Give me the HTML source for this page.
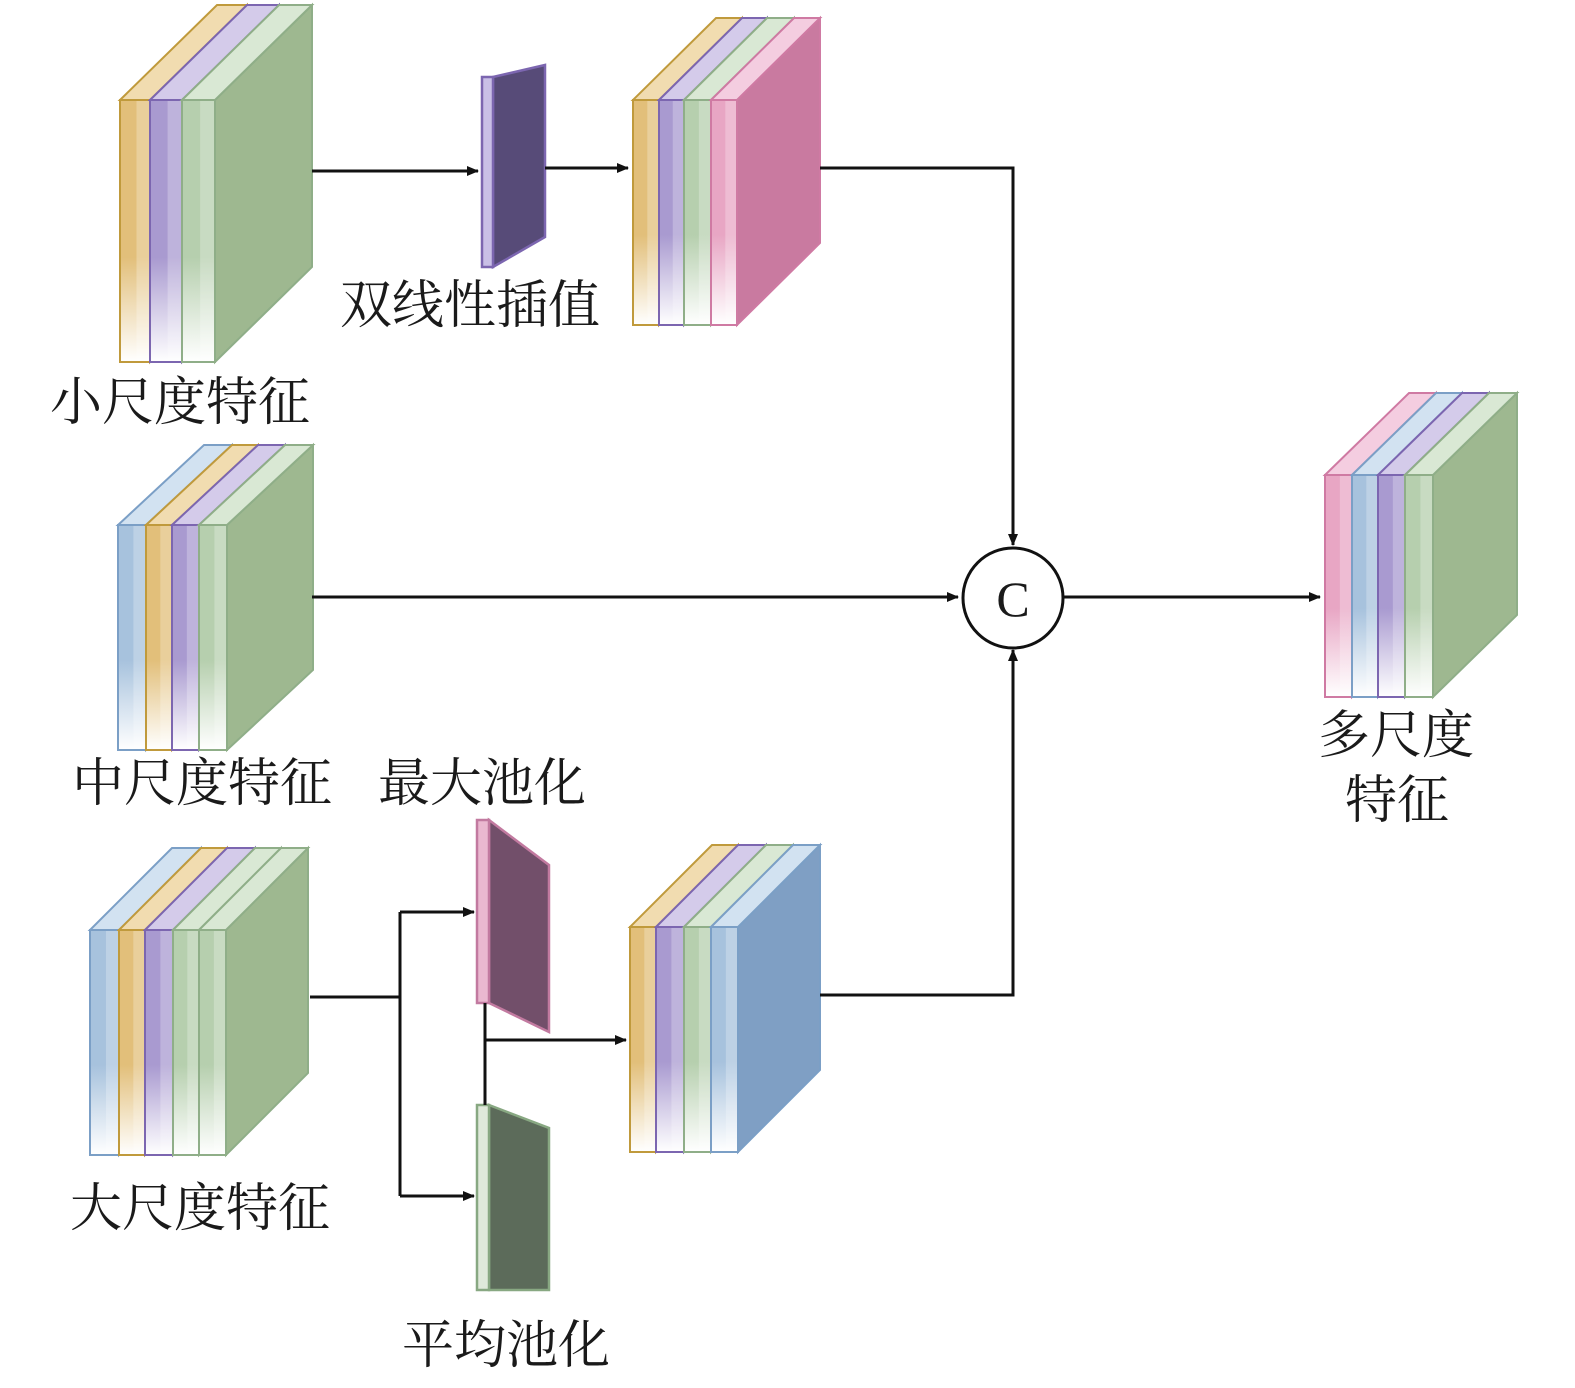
<!DOCTYPE html>
<html><head><meta charset="utf-8">
<style>
html,body{margin:0;padding:0;background:#fff;}
svg{display:block;}
text{font-family:"Liberation Serif","Noto Serif CJK SC",serif;font-size:52px;fill:#1a1a1a;}
</style></head>
<body>
<svg id="s" width="1575" height="1388" viewBox="0 0 1575 1388" xmlns="http://www.w3.org/2000/svg">
<defs>
<marker id="ah" markerWidth="12" markerHeight="10" refX="11" refY="5" orient="auto" markerUnits="userSpaceOnUse" viewBox="0 0 12 10">
<path d="M0,0 L12,5 L0,10 Z" fill="#111"/></marker>
</defs>
<g id="blocks"></g>
<g stroke="#111" stroke-width="3" fill="none">
<path d="M312,171 H478" marker-end="url(#ah)" transform="scale(1)"/>
<path d="M545,168 H628" marker-end="url(#ah)"/>
<path d="M820,168 H1013 V545" marker-end="url(#ah)"/>
<path d="M312,597 H958" marker-end="url(#ah)"/>
<path d="M1064,597 H1320" marker-end="url(#ah)"/>
<path d="M820,995 H1013 V650" marker-end="url(#ah)"/>
<path d="M310,997 H400"/>
<path d="M400,912 V1196"/>
<path d="M400,912 H474" marker-end="url(#ah)"/>
<path d="M400,1196 H474" marker-end="url(#ah)"/>
<path d="M485,1003 V1105"/>
<path d="M485,1040 H626" marker-end="url(#ah)"/>
<circle cx="1013" cy="598" r="50" stroke-width="3"/>
</g>
<text x="1013" y="616" text-anchor="middle" style="font-size:50px">C</text>
<text x="50" y="420">小尺度特征</text>
<text x="340" y="323">双线性插值</text>
<text x="72" y="801">中尺度特征</text>
<text x="378" y="801">最大池化</text>
<text x="70" y="1226">大尺度特征</text>
<text x="402" y="1363">平均池化</text>
<text x="1318" y="753">多尺度</text>
<text x="1345" y="818">特征</text>
</svg>
<script>
var C={
 y:{f:"#e2bf7a",t:"#f1dcb0",s:"#c09a3c"},
 p:{f:"#a99ad0",t:"#d4cbea",s:"#7c66b0"},
 g:{f:"#b6cfae",t:"#d9e8d4",s:"#8fae88",side:"#9eb890"},
 k:{f:"#e8a6c4",t:"#f4cde0",s:"#cf7aa3",side:"#c97aa0"},
 b:{f:"#a7c2dd",t:"#d2e2f1",s:"#7b9fc6",side:"#7f9fc4"}
};
var NS="http://www.w3.org/2000/svg",G=document.getElementById("blocks"),defs=document.querySelector("defs"),gid=0;
function el(n,a){var e=document.createElementNS(NS,n);for(var k in a)e.setAttribute(k,a[k]);return e;}
function grad(c){var id="g"+(gid++);var g=el("linearGradient",{id:id,x1:0,y1:0,x2:1,y2:0});
g.appendChild(el("stop",{offset:"0","stop-color":c}));g.appendChild(el("stop",{offset:"1","stop-color":"#ffffff","stop-opacity":"0.9"}));
var g2=el("linearGradient",{id:id+"v",x1:0,y1:0,x2:0,y2:1});
g2.appendChild(el("stop",{offset:"0","stop-color":c}));g2.appendChild(el("stop",{offset:"0.6","stop-color":c}));g2.appendChild(el("stop",{offset:"1","stop-color":"#ffffff"}));
defs.appendChild(g);defs.appendChild(g2);return id;}
function block(x0,y0,h,ws,cs,dx,dy){
 var x=x0;
 for(var i=0;i<ws.length;i++){
  var c=C[cs[i]],w=ws[i],last=i==ws.length-1;
  var sideCol=last?(c.side||c.f):c.f;
  G.appendChild(el("polygon",{points:[x+w,y0,x+w+dx,y0+dy,x+w+dx,y0+dy+h,x+w,y0+h].join(","),fill:sideCol,stroke:c.s,"stroke-width":2}));
  G.appendChild(el("polygon",{points:[x,y0,x+dx,y0+dy,x+w+dx,y0+dy,x+w,y0].join(","),fill:c.t,stroke:c.s,"stroke-width":2}));
  var id=grad(c.f);
  G.appendChild(el("rect",{x:x,y:y0,width:w,height:h,fill:"url(#"+id+"v)",stroke:c.s,"stroke-width":2}));
  G.appendChild(el("rect",{x:x+w*0.55,y:y0+1,width:w*0.45-1,height:h-2,fill:"#fff",opacity:0.25}));
  x+=w;
 }
}
block(120,100,262,[30,32,33],["y","p","g"],97,-95);
block(633,100,225,[26,25,27,53],["y","p","g","k"],0,0);
G.innerHTML="";
block(120,100,262,[30,32,63],["y","p","g"],0,0);
G.innerHTML="";
// proper drawing
block(120,100,262,[30,32,33],["y","p","g"],97,-95);
block(633,100,225,[26,25,27,26],["y","p","g","k"],83,-82);
block(118,525,225,[28,26,27,28],["b","y","p","g"],86,-80);
block(90,930,225,[29,26,28,26,27],["b","y","p","g","g"],82,-82);
block(630,927,225,[26,28,27,27],["y","p","g","b"],82,-82);
block(1325,475,222,[27,26,27,28],["k","b","p","g"],84,-82);
// thin plates
function plate(fx,fy,fh,fw,sp,front,side,stroke){
 G.appendChild(el("polygon",{points:sp,fill:side,stroke:stroke,"stroke-width":2.5}));
 G.appendChild(el("rect",{x:fx,y:fy,width:fw,height:fh,fill:front,stroke:stroke,"stroke-width":2.5}));
}
plate(482,77,190,11,"493,77 545,65 545,237 493,267","#c9bfe6","#574b78","#7c66b0");
plate(477,820,183,12,"489,820 549,865 549,1032 489,1003","#eab8d0","#724f6a","#c27aa0");
plate(477,1105,185,12,"489,1105 549,1128 549,1290 489,1290","#dfe9da","#5c6b5a","#88a882");
</script>
</body></html>
